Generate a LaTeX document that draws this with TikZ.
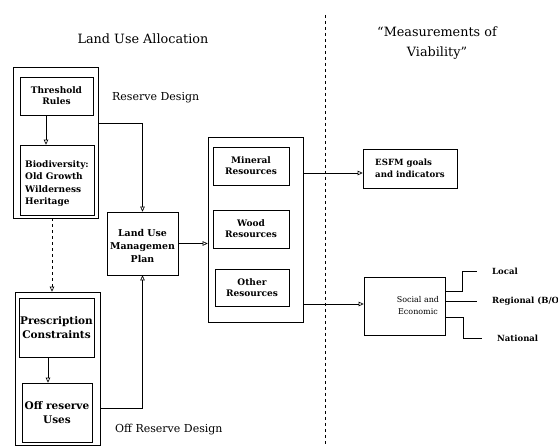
\documentclass[tikz,border=0pt]{standalone}
\usepackage{fontspec}
\setmainfont{DejaVu Serif}
\usetikzlibrary{arrows.meta}
\tikzset{
  box/.style={draw, line width=0.6pt, inner sep=1pt, align=center,
    font=\bfseries\fontsize{9}{11}\selectfont},
  frame/.style={draw, line width=0.6pt, inner sep=0pt},
  link/.style={line width=0.6pt, -{Triangle[open,length=5pt,width=4.5pt]}},
  lbl/.style={font=\fontsize{11}{13}\selectfont, inner sep=0pt},
  side/.style={lbl, anchor=west, font=\bfseries\fontsize{8.5}{10}\selectfont}
}
\begin{document}
\begin{tikzpicture}[x=1pt,y=-1pt]
\useasboundingbox (0,0) rectangle (558,446);
% titres
\node (tland) at (143,39) [lbl, font=\fontsize{12.8}{15}\selectfont] {Land Use Allocation};
\node (tmeas) at (437,43) [lbl, align=center, font=\fontsize{12.8}{20}\selectfont] {“Measurements of\\Viability”};
\draw [dashed, line width=0.5pt] (325,15) -- (325,446);
% reserve
\node (resv) at (55.5,142.5) [frame, minimum width=85, minimum height=151] {};
\node (thr) at (56.5,96) [box, minimum width=73, minimum height=38] {Threshold\\Rules};
\node (bio) at (57,180) [box, align=left, minimum width=74, minimum height=70, font=\bfseries\fontsize{9}{12.3}\selectfont] {\rule{0pt}{14pt}Biodiversity:\\Old Growth\\Wilderness\\Heritage};
\node (lresv) at (112,98) [lbl, anchor=west] {Reserve Design};
% hors reserve
\node (offo) at (57.5,368.5) [frame, minimum width=85, minimum height=153] {};
\node (presc) at (56.5,327.5) [box, minimum width=71, minimum height=59, font=\bfseries\fontsize{10.5}{14}\selectfont] {Prescription\\Constraints};
\node (offr) at (57,412.5) [box, minimum width=70, minimum height=59, font=\bfseries\fontsize{10.5}{14}\selectfont] {Off reserve\\Uses};
\node (loff) at (115,430) [lbl, anchor=west] {Off Reserve Design};
% plan
\node (lump) at (142.5,243.5) [box, minimum width=71, minimum height=63, font=\bfseries\fontsize{9.4}{13}\selectfont] {\rule{0pt}{12pt}Land Use\\Managemen\\Plan};
% ressources
\node (reso) at (255.5,229.5) [frame, minimum width=95, minimum height=185] {};
\node (mine) at (251,166) [box, minimum width=76, minimum height=38] {Mineral\\Resources};
\node (wood) at (251,229) [box, minimum width=76, minimum height=38] {Wood\\Resources};
\node (othr) at (252,287.5) [box, minimum width=74, minimum height=37] {Other\\Resources};
% mesures
\node (esfm) at (410,168.5) [box, align=left, minimum width=94, minimum height=39, font=\bfseries\fontsize{8.6}{12}\selectfont] {ESFM goals\\and indicators};
\node (soc) at (404.5,306) [frame, minimum width=81, minimum height=58] {};
\node (soct) at (418,305.5) [lbl, align=center, font=\fontsize{8}{12}\selectfont] {Social and\\Economic};
\node (loc) at (492,271) [side] {Local};
\node (reg) at (492,301) [side] {Regional (B/O};
\node (nat) at (497,338) [side] {National};
\coordinate (cloc) at (477,271);
\coordinate (creg) at (477,301);
\coordinate (cnat) at (482,338);
% liaisons
\draw [link] (46,0 |- thr.south) -- (46,0 |- bio.north);
\draw [link] (resv.east |- 0,123) -| (lump.north);
\draw [link, dashed] (52,0 |- resv.south) -- (52,0 |- offo.north);
\draw [link] (48,0 |- presc.south) -- (48,0 |- offr.north);
\draw [link] (offo.east |- 0,408) -| (lump.south);
\draw [link] (lump.east) -- (reso.west |- lump.east);
\draw [link] (reso.east |- 0,173) -- (esfm.west |- 0,173);
\draw [link] (reso.east |- 0,304) -- (soc.west |- 0,304);
\draw [line width=0.6pt] (soc.east |- 0,291) -| (462,271) -- (cloc);
\draw [line width=0.6pt] (soc.east |- creg) -- (creg);
\draw [line width=0.6pt] (soc.east |- 0,317) -| (463,338) -- (cnat);
\end{tikzpicture}
\end{document}
